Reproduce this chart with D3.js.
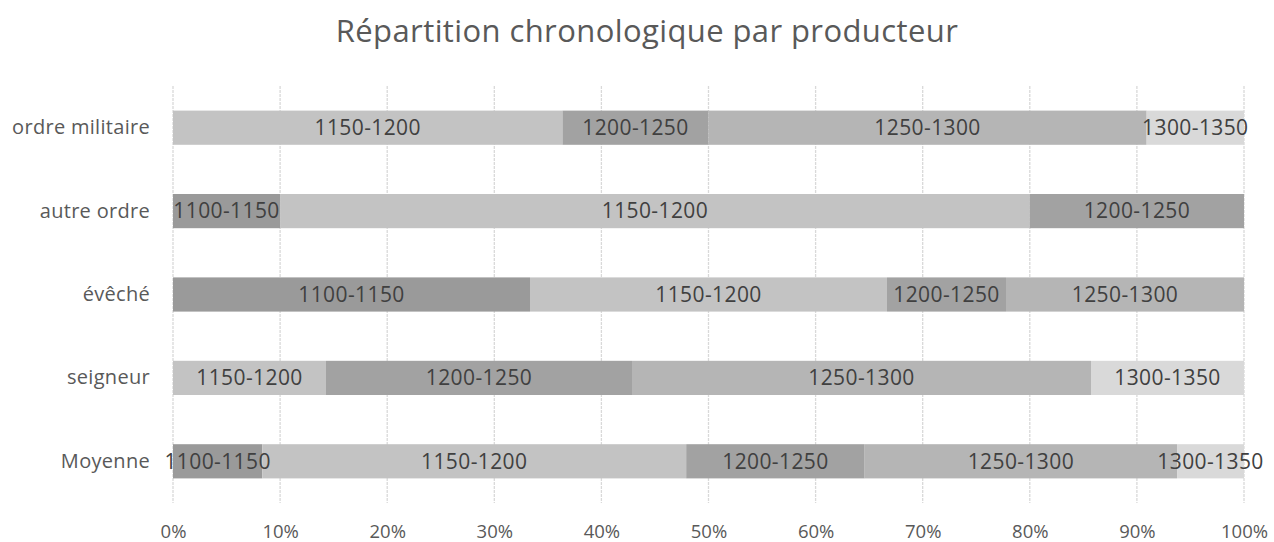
<!DOCTYPE html>
<html><head><meta charset="utf-8">
<script src="https://cdn.jsdelivr.net/npm/d3@7"></script>
<style>body{margin:0;background:#fff;} svg{display:block;font-family:"Open Sans", sans-serif;}</style>
</head><body>
<svg id="c" width="1274" height="542"></svg>
<script>
const categories = ["Moyenne","seigneur","évêché","autre ordre","ordre militaire"];
const periods = ["1100-1150","1150-1200","1200-1250","1250-1300","1300-1350"];
const v1100_1150 = [4, 0, 3, 1, 0];
const v1150_1200 = [19, 1, 3, 7, 8];
const v1200_1250 = [8, 2, 1, 2, 3];
const v1250_1300 = [14, 3, 2, 0, 9];
const v1300_1350 = [3, 1, 0, 0, 2];
const tickValues = [0,0.1,0.2,0.3,0.4,0.5,0.6,0.7,0.8,0.9,1];
const title = "Répartition chronologique par producteur";

const seriesVals = [v1100_1150, v1150_1200, v1200_1250, v1250_1300, v1300_1350];
const colors = ["#9a9a9a","#c3c3c3","#a2a2a2","#b5b5b5","#d9d9d9"];
const rows = categories.map((c,i)=>{const o={cat:c}; periods.forEach((p,j)=>o[p]=seriesVals[j][i]); return o;});
const stack = d3.stack().keys(periods).offset(d3.stackOffsetExpand)(rows);

const svg = d3.select("#c");
const FONT = "'Open Sans', sans-serif";
const L=173, R=1244, T=86, B=503;
const x = d3.scaleLinear().domain([0,1]).range([L,R]);
const y = d3.scaleBand().domain(categories.slice().reverse()).range([T,B]).paddingInner(0.59).paddingOuter(0.295);

svg.append("text").attr("x",647).attr("y",42).attr("text-anchor","middle")
  .attr("fill","#595959").attr("font-size",31).attr("letter-spacing","0.4px").text(title);

const grid = svg.append("g");
grid.selectAll("line").data(tickValues).join("line")
  .attr("x1",d=>x(d)).attr("x2",d=>x(d)).attr("y1",T).attr("y2",B)
  .attr("stroke","#d9d9d9").attr("stroke-width",1.3).attr("stroke-dasharray","3,1");

const xAxis = d3.axisBottom(x).tickValues(tickValues).tickFormat(d3.format(".0%")).tickSize(0).tickPadding(0);
const gx = svg.append("g").attr("transform",`translate(0,${B+35})`).call(xAxis);
gx.select(".domain").remove();
gx.selectAll("text").attr("fill","#595959").attr("font-size",18.5).attr("font-family",FONT).attr("dy","0");

const yAxis = d3.axisLeft(y).tickSize(0).tickPadding(23);
const gy = svg.append("g").attr("transform",`translate(${L},0)`).call(yAxis);
gy.select(".domain").remove();
gy.selectAll("text").attr("fill","#595959").attr("font-size",20).attr("letter-spacing","0.3px").attr("font-family",FONT);

const layers = svg.append("g").selectAll("g").data(stack).join("g").attr("fill",(d,i)=>colors[i]);
layers.selectAll("rect").data(d=>d.map(s=>({s,cat:s.data.cat}))).join("rect")
  .attr("x",d=>x(d.s[0])).attr("width",d=>x(d.s[1])-x(d.s[0]))
  .attr("y",d=>y(d.cat)).attr("height",y.bandwidth());

const lab = svg.append("g");
stack.forEach((layer)=>{
  layer.forEach(s=>{
    if(s[1]-s[0] <= 0) return;
    lab.append("text").attr("x",(x(s[0])+x(s[1]))/2).attr("y",y(s.data.cat)+y.bandwidth()/2)
      .attr("dy","0.35em").attr("text-anchor","middle").attr("fill","#404040").attr("font-size",21)
      .attr("letter-spacing","0.4px").text(layer.key);
  });
});
</script>
</body></html>
